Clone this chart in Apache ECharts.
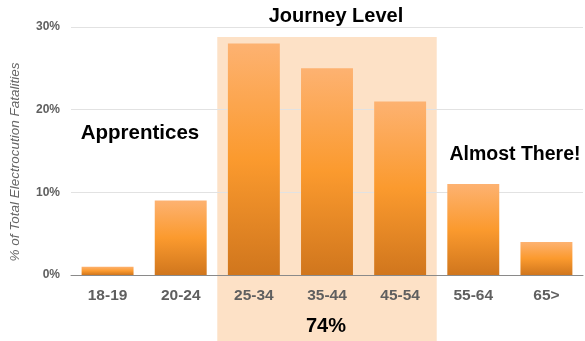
<!DOCTYPE html>
<html><head><meta charset="utf-8">
<script src="https://cdn.jsdelivr.net/npm/echarts@6/dist/echarts.min.js"></script>
<style>html,body{margin:0;padding:0;background:#fff}#c{width:585px;height:341px}</style>
</head><body><div id="c"></div>
<script>
const categories = ['18-19','20-24','25-34','35-44','45-54','55-64','65>'];
const values = [1, 9, 28, 25, 21, 11, 4];
const yTicks = [0, 10, 20, 30];
const journeyGroup = ['25-34', '45-54'];
const journeyTotal = '74%';

const FONT = '"Liberation Sans", Arial, sans-serif';
const chart = echarts.init(document.getElementById('c'));
const option = {
  animation: false,
  textStyle: { fontFamily: FONT },
  grid: { left: 70, right: 2, top: 27, bottom: 66 },
  xAxis: {
    type: 'category', data: categories,
    axisLine: { lineStyle: { color: '#8a8a8a', width: 1 } },
    axisTick: { show: false },
    axisLabel: { color: '#5f5f5f', fontWeight: 'bold', fontSize: 15.5, margin: 13, fontFamily: FONT }
  },
  yAxis: {
    type: 'value', min: yTicks[0], max: yTicks[yTicks.length - 1], interval: 10,
    name: '% of Total Electrocution Fatalities', nameLocation: 'middle', nameGap: 49,
    nameTextStyle: { color: '#666', fontStyle: 'italic', fontSize: 13.5, fontFamily: FONT, padding: [0, 22, 0, 0] },
    axisLabel: { formatter: '{value}%', color: '#5f5f5f', fontWeight: 'bold', fontSize: 12, margin: 11, fontFamily: FONT },
    axisLine: { show: false }, axisTick: { show: false },
    splitLine: { lineStyle: { color: '#e2e2e2', width: 1 } }
  },
  series: [{
    type: 'bar', data: values, barWidth: '71%', z: 3,
    itemStyle: {
      color: new echarts.graphic.LinearGradient(0, 0, 0, 1, [
        { offset: 0, color: '#fdb271' },
        { offset: 0.5, color: '#fb9a2e' },
        { offset: 1, color: '#d0761d' }
      ]),
      shadowBlur: 2, shadowColor: 'rgba(0,0,0,0.35)', shadowOffsetX: 1, shadowOffsetY: 0
    }
  }]
};
chart.setOption(option);

// shaded journey-level band derived from axis scale
const i0 = categories.indexOf(journeyGroup[0]);
const i1 = categories.indexOf(journeyGroup[1]);
const c0 = chart.convertToPixel({ xAxisIndex: 0 }, categories[i0]);
const c1 = chart.convertToPixel({ xAxisIndex: 0 }, categories[i1]);
const c2 = chart.convertToPixel({ xAxisIndex: 0 }, categories[i0 + 1]);
const step = c2 - c0;
const bandLeft = c0 - step / 2, bandRight = c1 + step / 2;
const topY = chart.convertToPixel({ yAxisIndex: 0 }, 28.8);

chart.setOption({
  graphic: [
    { type: 'rect', z: -1, zlevel: 0, silent: true,
      shape: { x: bandLeft, y: topY, width: bandRight - bandLeft, height: 341 - topY },
      style: { fill: '#fde1c6' } },
    { type: 'text', x: 336, y: 16, z: 10,
      style: { text: 'Journey Level', font: 'bold 20px ' + FONT, fill: '#000', align: 'center', verticalAlign: 'middle' } },
    { type: 'text', x: 326, y: 326, z: 10,
      style: { text: journeyTotal, font: 'bold 20px ' + FONT, fill: '#000', align: 'center', verticalAlign: 'middle' } },
    { type: 'text', x: 140, y: 133, z: 10,
      style: { text: 'Apprentices', font: 'bold 20.5px ' + FONT, fill: '#000', align: 'center', verticalAlign: 'middle' } },
    { type: 'text', x: 515, y: 155, z: 10,
      style: { text: 'Almost There!', font: 'bold 19.5px ' + FONT, fill: '#000', align: 'center', verticalAlign: 'middle' } }
  ]
});
</script></body></html>
